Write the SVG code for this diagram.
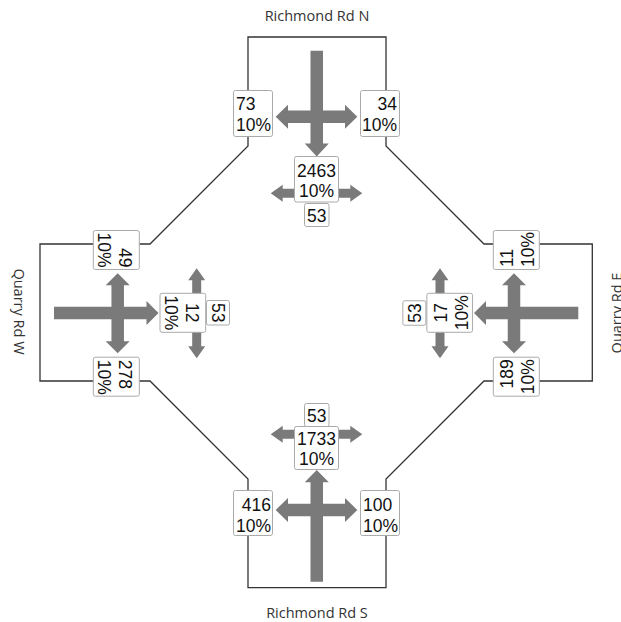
<svg xmlns="http://www.w3.org/2000/svg" width="621" height="622" viewBox="0 0 621 622">
  <style>
    .frame { fill: none; stroke: #333; stroke-width: 1.3; stroke-linejoin: miter; }
    .mv { fill: #7a7a7a; stroke: none; }
    .box { fill: #fff; stroke: #aaa; stroke-width: 1; }
    .num { font-family: "Liberation Sans", Arial, sans-serif; font-size: 17.5px; fill: #111; }
    .mid { text-anchor: middle; }
    .end { text-anchor: end; }
    .road { font-family: "Open Sans", "Noto Sans", sans-serif; font-size: 14.5px; fill: #333; text-anchor: middle; }
  </style>

  <rect width="621" height="622" fill="#fff"/>

  <!-- road outline (arms and roundabout edges) -->
  <g id="connectors">
    <path class="frame" d="M248,37 H386 V146 L484,244 H592.3 V381 H484 L386,479 V587.7 H248 V479 L150,381 H40 V244 H150 L248,146 Z"/>
  </g>

  <!-- turning movement arrows -->
  <g id="movements">
    <!-- north approach -->
    <path class="mv" d="M310.5,50.7 H323 V143.5 H328.75 L316.75,156.5 L304.75,143.5 H310.5 Z"/>
    <path class="mv" d="M275.7,116.7 L288,104.7 V110.5 H345 V104.7 L357.3,116.7 L345,128.7 V123 H288 V128.7 Z"/>
    <path class="mv" d="M270.7,193.3 L282.7,184.8 V188.8 H350.3 V184.8 L362.3,193.3 L350.3,201.8 V197.8 H282.7 V201.8 Z"/>
    <!-- south approach -->
    <path class="mv" d="M310.5,581.7 V482.3 H304.75 L316.75,470 L328.75,482.3 H323 V581.7 Z"/>
    <path class="mv" d="M275.7,510 L288,498 V503.75 H345 V498 L357.3,510 L345,522 V516.25 H288 V522 Z"/>
    <path class="mv" d="M270.7,434.3 L282.7,425.8 V429.8 H350.3 V425.8 L362.3,434.3 L350.3,442.8 V438.8 H282.7 V442.8 Z"/>
    <!-- west approach -->
    <path class="mv" d="M54,306.75 H146.5 V301 L158.5,313 L146.5,325 V319.25 H54 Z"/>
    <path class="mv" d="M117.7,273.3 L129.7,285.3 H123.95 V341.3 H129.7 L117.7,353.3 L105.7,341.3 H111.45 V285.3 H105.7 Z"/>
    <path class="mv" d="M196.7,268.3 L205.2,280.3 H201.2 V346.3 H205.2 L196.7,358.3 L188.2,346.3 H192.2 V280.3 H188.2 Z"/>
    <!-- east approach -->
    <path class="mv" d="M578.3,306.75 H486 V301 L474,313 L486,325 V319.25 H578.3 Z"/>
    <path class="mv" d="M514,273.3 L526,285.3 H520.25 V341.3 H526 L514,353.3 L502,341.3 H507.75 V285.3 H502 Z"/>
    <path class="mv" d="M440,268.3 L448.5,280.3 H444.5 V346.3 H448.5 L440,358.3 L431.5,346.3 H435.5 V280.3 H431.5 Z"/>
  </g>

  <!-- north arm labels -->
  <g id="n-right">
    <rect class="box" x="233.5" y="90.5" width="39" height="46" rx="2"/>
    <text class="num" x="236" y="110">73</text>
    <text class="num" x="236" y="131">10%</text>
  </g>
  <g id="n-left">
    <rect class="box" x="360.5" y="90.5" width="39" height="46" rx="2"/>
    <text class="num end" x="397" y="110">34</text>
    <text class="num end" x="397" y="131">10%</text>
  </g>
  <g id="n-through">
    <rect class="box" x="294.5" y="156.5" width="44" height="45.5" rx="2"/>
    <text class="num mid" x="316.5" y="176.5">2463</text>
    <text class="num mid" x="316.5" y="197">10%</text>
  </g>
  <g id="n-uturn">
    <rect class="box" x="304.5" y="203.5" width="24.5" height="23" rx="2"/>
    <text class="num mid" x="316.75" y="222">53</text>
  </g>

  <!-- south arm labels -->
  <g id="s-left">
    <rect class="box" x="233.5" y="490.5" width="39" height="45" rx="2"/>
    <text class="num end" x="271" y="511">416</text>
    <text class="num end" x="271" y="532">10%</text>
  </g>
  <g id="s-right">
    <rect class="box" x="360.5" y="490.5" width="39" height="45" rx="2"/>
    <text class="num" x="363" y="511">100</text>
    <text class="num" x="363" y="532">10%</text>
  </g>
  <g id="s-through">
    <rect class="box" x="294.5" y="426.5" width="44" height="43" rx="2"/>
    <text class="num mid" x="316.5" y="444.5">1733</text>
    <text class="num mid" x="316.5" y="465">10%</text>
  </g>
  <g id="s-uturn">
    <rect class="box" x="304.5" y="403.5" width="24.5" height="23" rx="2"/>
    <text class="num mid" x="316.75" y="422">53</text>
  </g>

  <!-- west arm labels (rotated) -->
  <g id="w-left" transform="translate(116.3,250) rotate(90)">
    <rect class="box" x="-19.5" y="-23" width="39" height="46" rx="2"/>
    <text class="num end" x="17.5" y="-3">49</text>
    <text class="num end" x="17.5" y="18">10%</text>
  </g>
  <g id="w-right" transform="translate(116.3,376.7) rotate(90)">
    <rect class="box" x="-19.5" y="-23" width="39" height="46" rx="2"/>
    <text class="num" x="-17" y="-3">278</text>
    <text class="num" x="-17" y="18">10%</text>
  </g>
  <g id="w-through" transform="translate(182.85,312.8) rotate(90)">
    <rect class="box" x="-19.5" y="-22.85" width="39" height="45.7" rx="2"/>
    <text class="num mid" x="0" y="-2.85">12</text>
    <text class="num mid" x="0" y="17.85">10%</text>
  </g>
  <g id="w-uturn" transform="translate(218,312.75) rotate(90)">
    <rect class="box" x="-12.25" y="-11.5" width="24.5" height="23" rx="2"/>
    <text class="num mid" x="0" y="6.5">53</text>
  </g>

  <!-- east arm labels (rotated) -->
  <g id="e-right" transform="translate(516.3,250) rotate(-90)">
    <rect class="box" x="-19.5" y="-23" width="39" height="46" rx="2"/>
    <text class="num" x="-17" y="-3">11</text>
    <text class="num" x="-17" y="18">10%</text>
  </g>
  <g id="e-left" transform="translate(516.3,376.7) rotate(-90)">
    <rect class="box" x="-19.5" y="-23" width="39" height="46" rx="2"/>
    <text class="num end" x="17.5" y="-3">189</text>
    <text class="num end" x="17.5" y="18">10%</text>
  </g>
  <g id="e-through" transform="translate(449.7,312.8) rotate(-90)">
    <rect class="box" x="-19.5" y="-22.85" width="39" height="45.7" rx="2"/>
    <text class="num mid" x="0" y="-2.85">17</text>
    <text class="num mid" x="0" y="17.85">10%</text>
  </g>
  <g id="e-uturn" transform="translate(414.35,313) rotate(-90)">
    <rect class="box" x="-12.25" y="-11.5" width="24.5" height="23" rx="2"/>
    <text class="num mid" x="0" y="6.5">53</text>
  </g>

  <!-- arm names -->
  <g id="road-names">
    <text class="road" x="317" y="21">Richmond Rd N</text>
    <text class="road" x="317" y="617.5">Richmond Rd S</text>
    <text class="road" transform="translate(13.5,311.5) rotate(90)">Quarry Rd W</text>
    <text class="road" transform="translate(622,313) rotate(-90)">Quarry Rd E</text>
  </g>
</svg>
